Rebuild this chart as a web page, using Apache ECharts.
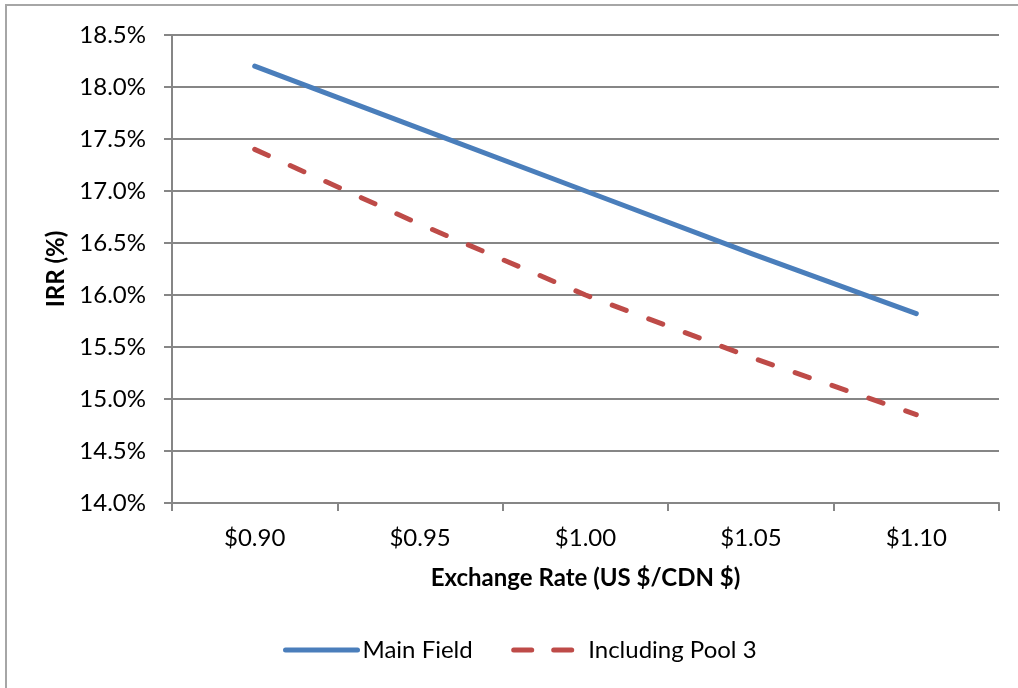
<!DOCTYPE html>
<html>
<head>
<meta charset="utf-8">
<script src="https://cdn.jsdelivr.net/npm/echarts@6/dist/echarts.min.js"></script>
<style>
  html, body { margin: 0; padding: 0; background: #fff; }
  #frame { position: absolute; left: 5px; top: 4px; width: 1100px; height: 800px; border: 2px solid #a6a6a6; box-sizing: border-box; }
  #chart { position: absolute; left: 0; top: 0; width: 1018px; height: 688px; }
</style>
</head>
<body>
<div id="frame"></div>
<div id="chart"></div>
<script>
// Exchange rate scenarios (US $ per CDN $)
const categories = ['$0.90', '$0.95', '$1.00', '$1.05', '$1.10'];
// IRR (%) for each scenario
const mainField = [18.2, 17.6, 17.0, 16.4, 15.82];
const includingPool3 = [17.4, 16.68, 16.0, 15.4, 14.85];
const seriesNames = ['Main Field', 'Including Pool 3'];

const FONT = 'Lato';
const axisGrey = '#868686';
const blue = '#4a7ebb';
const red = '#be4b48';

const chart = echarts.init(document.getElementById('chart'), null, { renderer: 'canvas' });
chart.setOption({
  animation: false,
  backgroundColor: 'transparent',
  textStyle: { fontFamily: FONT, color: '#000' },
  grid: { left: 172, right: 19, top: 35, bottom: 185, containLabel: false },
  legend: {
    bottom: 21,
    left: 278,
    itemWidth: 72,
    itemHeight: 12,
    itemGap: 36,
    textStyle: { fontFamily: FONT, fontSize: 24, color: '#000' },
    data: [
      {
        name: seriesNames[0],
        itemStyle: { opacity: 0 },
        lineStyle: { color: blue, width: 5, cap: 'round', opacity: 1 }
      },
      {
        name: seriesNames[1],
        itemStyle: { opacity: 0 },
        lineStyle: { color: red, width: 5, type: [18, 22], dashOffset: -2.5, cap: 'round', opacity: 1 }
      }
    ]
  },
  xAxis: {
    type: 'category',
    data: categories,
    boundaryGap: true,
    name: 'Exchange Rate (US $/CDN $)',
    nameLocation: 'middle',
    nameGap: 63,
    nameTextStyle: { fontFamily: FONT, fontSize: 24, fontWeight: 'bold', color: '#000' },
    axisLine: { lineStyle: { color: axisGrey, width: 2 } },
    axisTick: { show: true, alignWithLabel: false, length: 8, lineStyle: { color: axisGrey, width: 2 } },
    axisLabel: { fontFamily: FONT, fontSize: 24, color: '#000', margin: 23 },
    splitLine: { show: false }
  },
  yAxis: {
    type: 'value',
    min: 14.0,
    max: 18.5,
    interval: 0.5,
    name: 'IRR (%)',
    nameLocation: 'middle',
    nameRotate: 90,
    nameGap: 99,
    nameTextStyle: { fontFamily: FONT, fontSize: 24, fontWeight: 'bold', color: '#000' },
    axisLine: { show: true, lineStyle: { color: axisGrey, width: 2 } },
    axisTick: { show: true, length: 8, lineStyle: { color: axisGrey, width: 2 } },
    axisLabel: {
      fontFamily: FONT, fontSize: 24, color: '#000', margin: 26,
      formatter: v => v.toFixed(1) + '%'
    },
    splitLine: { show: true, lineStyle: { color: axisGrey, width: 2 } }
  },
  series: [
    {
      name: seriesNames[0],
      type: 'line',
      data: mainField,
      symbol: 'none',
      color: blue,
      lineStyle: { color: blue, width: 5, cap: 'round', join: 'round' }
    },
    {
      name: seriesNames[1],
      type: 'line',
      data: includingPool3,
      symbol: 'none',
      color: red,
      lineStyle: { color: red, width: 5, type: [15, 24], cap: 'round', join: 'round' }
    }
  ]
});
</script>
</body>
</html>
